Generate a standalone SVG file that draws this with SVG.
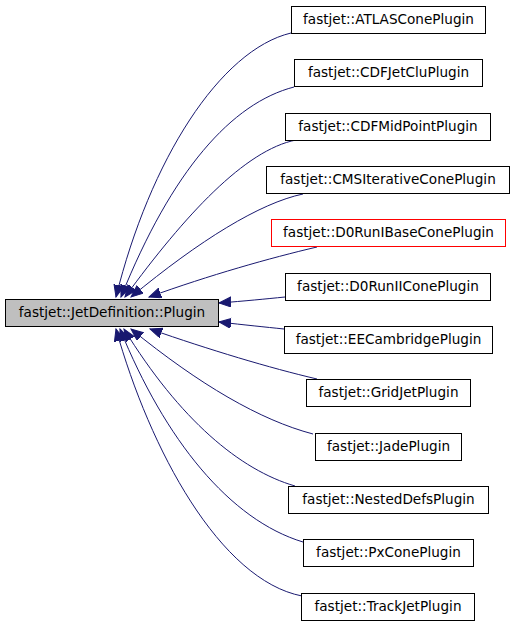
<svg xmlns="http://www.w3.org/2000/svg" width="515" height="627" viewBox="0 0 515 627">
<style>
.n rect{fill:#ffffff;stroke:#000000;stroke-width:1}
.n text{font-family:"DejaVu Sans",sans-serif;font-size:13.6px;text-anchor:middle;fill:#000000}
#base rect{fill:#bfbfbf}
#d0runibase rect{stroke:#ff0000}
.e path{fill:none;stroke:#191970;stroke-width:1;marker-end:url(#arr)}
</style>
<defs>
<marker id="arr" markerUnits="userSpaceOnUse" markerWidth="14" markerHeight="12" refX="12" refY="5" orient="auto">
<path d="M0,0 L12,5 L0,10 z" fill="#191970" stroke="#191970" stroke-width="1"/>
</marker>
</defs>
<rect width="515" height="627" fill="#ffffff"/>
<g class="e" id="edges">
<path d="M291,33 C220,50 150,160 116,297"/>
<path d="M294,87 C232,103 172,170 121,297"/>
<path d="M296,140 C245,150 185,215 125,297"/>
<path d="M303,194 C260,203 200,240 131,297"/>
<path d="M317,247 C270,258 210,275 149,297"/>
<path d="M285,297 C265,299 245,301 219,303"/>
<path d="M284,329 C265,327 245,325 219,322"/>
<path d="M317,379 C270,368 210,350 150,329"/>
<path d="M313,434 C260,420 200,385 131,329"/>
<path d="M295,486 C240,470 180,420 124,329"/>
<path d="M303,542 C230,520 165,440 120,329"/>
<path d="M302,596 C220,580 150,450 116,329"/>
</g>
<g class="n" id="base"><rect x="5.5" y="299.5" width="213" height="27"/><text x="112" y="317">fastjet::JetDefinition::Plugin</text></g>
<g class="n" id="atlascone"><rect x="291.5" y="6.5" width="194" height="27"/><text x="388.5" y="24">fastjet::ATLASConePlugin</text></g>
<g class="n" id="cdfjetclu"><rect x="294.5" y="59.5" width="188" height="27"/><text x="388.5" y="77">fastjet::CDFJetCluPlugin</text></g>
<g class="n" id="cdfmidpoint"><rect x="285.5" y="113.5" width="205" height="27"/><text x="388" y="131">fastjet::CDFMidPointPlugin</text></g>
<g class="n" id="cmsiterativecone"><rect x="266.5" y="166.5" width="243" height="27"/><text x="388" y="184">fastjet::CMSIterativeConePlugin</text></g>
<g class="n" id="d0runibase"><rect x="271.5" y="219.5" width="234" height="27"/><text x="388.5" y="237">fastjet::D0RunIBaseConePlugin</text></g>
<g class="n" id="d0runiicone"><rect x="285.5" y="273.5" width="205" height="27"/><text x="388" y="291">fastjet::D0RunIIConePlugin</text></g>
<g class="n" id="eecambridge"><rect x="284.5" y="326.5" width="208" height="27"/><text x="388.5" y="344">fastjet::EECambridgePlugin</text></g>
<g class="n" id="gridjet"><rect x="306.5" y="379.5" width="164" height="27"/><text x="388.5" y="397">fastjet::GridJetPlugin</text></g>
<g class="n" id="jade"><rect x="315.5" y="433.5" width="146" height="27"/><text x="388.5" y="451">fastjet::JadePlugin</text></g>
<g class="n" id="nesteddefs"><rect x="288.5" y="486.5" width="200" height="27"/><text x="388.5" y="504">fastjet::NestedDefsPlugin</text></g>
<g class="n" id="pxcone"><rect x="303.5" y="539.5" width="170" height="27"/><text x="388.5" y="557">fastjet::PxConePlugin</text></g>
<g class="n" id="trackjet"><rect x="301.5" y="593.5" width="173" height="27"/><text x="388" y="611">fastjet::TrackJetPlugin</text></g>
</svg>
